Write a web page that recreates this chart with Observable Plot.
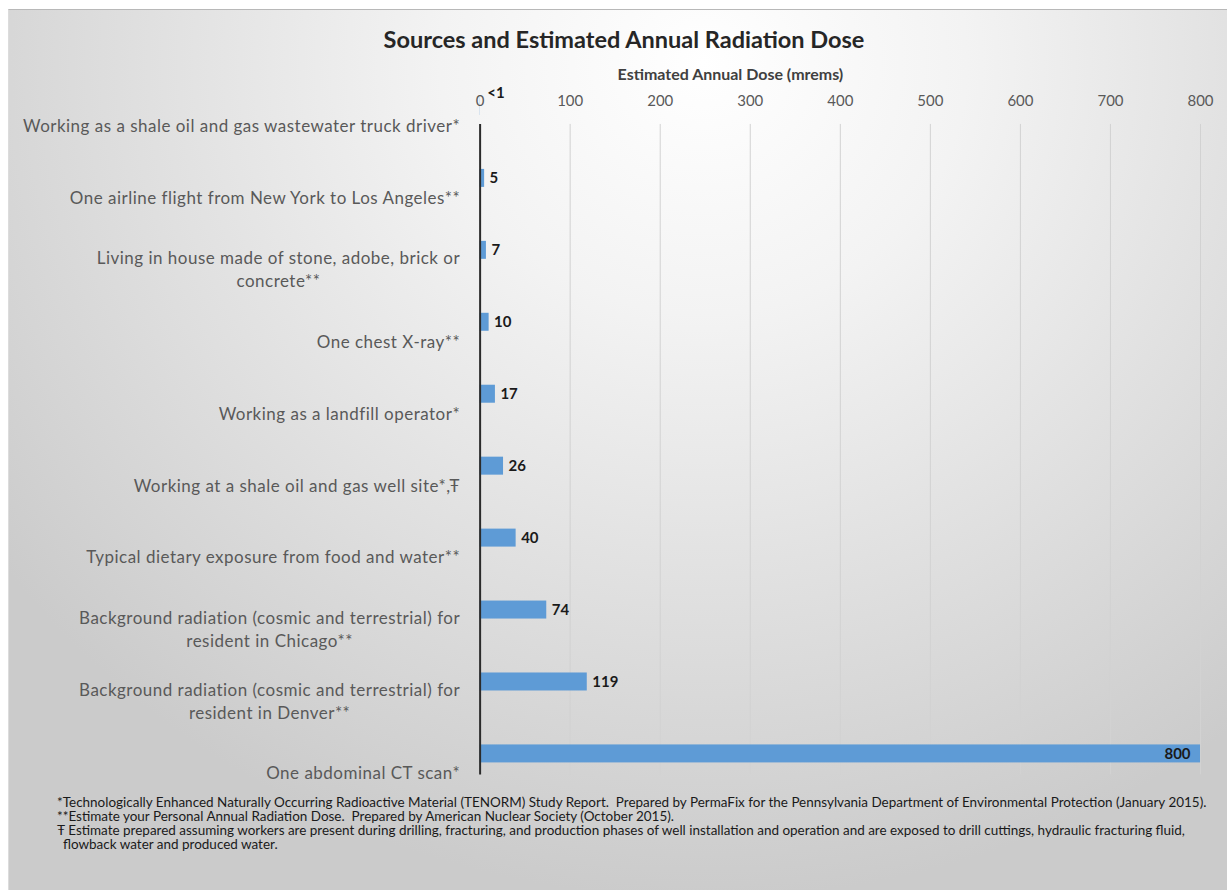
<!DOCTYPE html>
<html>
<head>
<meta charset="utf-8">
<script src="https://cdn.jsdelivr.net/npm/d3@7"></script>
<script src="https://cdn.jsdelivr.net/npm/@observablehq/plot@0.6"></script>
<style>
  html, body { margin: 0; padding: 0; background: #fff; }
  body { width: 1227px; height: 890px; overflow: hidden; position: relative; font-family: Lato, "Open Sans", sans-serif; }
  #chart {
    position: absolute; left: 8px; top: 9px; width: 1219px; height: 881px;
    box-sizing: border-box;
    border-top: 1px solid #b8b8b8; border-left: 1px solid #dcdcdc;
    background: radial-gradient(ellipse 72% 95% at 57% 6%, #ffffff 0%, #f3f3f3 30%, #dfdfdf 65%, #cbcbcb 100%);
  }
  #title {
    height: 51px; box-sizing: border-box; padding-top: 15px; padding-left: 12px;
    text-align: center; font-weight: bold; font-size: 23.5px; line-height: 28px; color: #262626;
  }
  #plot svg { display: block; background: transparent; }
  #notes {
    position: absolute; left: 48px; top: 785px; color: #1a1a1a;
    font-size: 12px; line-height: 14px; white-space: nowrap;
  }
  #notes div.indent { padding-left: 6px; }
</style>
</head>
<body>
<div id="chart">
  <div id="title">Sources and Estimated Annual Radiation Dose</div>
  <div id="plot"></div>
  <div id="notes">
    <div>*Technologically Enhanced Naturally Occurring Radioactive Material (TENORM) Study Report.&nbsp; Prepared by PermaFix for the Pennsylvania Department of Environmental Protection (January 2015).</div>
    <div>**Estimate your Personal Annual Radiation Dose.&nbsp; Prepared by American Nuclear Society (October 2015).</div>
    <div>Ŧ Estimate prepared assuming workers are present during drilling, fracturing, and production phases of well installation and operation and are exposed to drill cuttings, hydraulic fracturing fluid,</div>
    <div class="indent">flowback water and produced water.</div>
  </div>
</div>
<script>
// ---- data ----
const categories = [
  "Working as a shale oil and gas wastewater truck driver*",
  "One airline flight from New York to Los Angeles**",
  "Living in house made of stone, adobe, brick or\nconcrete**",
  "One chest X-ray**",
  "Working as a landfill operator*",
  "Working at a shale oil and gas well site*,Ŧ",
  "Typical dietary exposure from food and water**",
  "Background radiation (cosmic and terrestrial) for\nresident in Chicago**",
  "Background radiation (cosmic and terrestrial) for\nresident in Denver**",
  "One abdominal CT scan*"
];
const doses = [0.2, 5, 7, 10, 17, 26, 40, 74, 119, 800];
const doseLabels = ["<1", "5", "7", "10", "17", "26", "40", "74", "119", "800"];
const xTicks = [0, 100, 200, 300, 400, 500, 600, 700, 800];
const xTitle = "Estimated Annual Dose (mrems)";

const rows = categories.map((c, i) => ({category: c, dose: doses[i], label: doseLabels[i]}));
const maxDose = d3.max(doses);

const svg = Plot.plot({
  width: 1219,
  height: 730,
  marginLeft: 471,
  marginRight: 27,
  marginTop: 63,
  marginBottom: 16,
  style: {fontFamily: "Lato, 'Open Sans', sans-serif", background: "transparent"},
  x: {domain: [0, 800], axis: null},
  y: {domain: categories, range: [9, 729], padding: 0, axis: null},
  marks: [
    Plot.ruleX(xTicks.filter(d => d > 0), {x: d => d, stroke: "#d2d2d2", strokeWidth: 1}),
    Plot.barX(rows, {x: "dose", y: "category", fill: "#5e9bd6", insetTop: 27, insetBottom: 27}),
    Plot.ruleX([0], {stroke: "#2b2b2b", strokeWidth: 2}),
    Plot.text(xTicks, {x: d => d, text: d => String(d), frameAnchor: "top", dy: -29, fill: "#595959", fontSize: 15}),
    Plot.text([xTitle], {text: d => d, frameAnchor: "top", dy: -56, dx: -110, fill: "#404040", fontSize: 16, fontWeight: "bold"}),
    Plot.text(rows, {y: "category", text: "category", frameAnchor: "left", textAnchor: "end", dx: -20, dy: 18, fill: "#595959", fontSize: 17, lineHeight: 1.36}),
    Plot.text(rows.filter(d => d.dose >= 1 && d.dose < maxDose), {x: "dose", y: "category", text: "label", textAnchor: "start", dx: 5, fill: "#1a1a1a", fontSize: 15, fontWeight: "bold"}),
    Plot.text(rows.filter(d => d.dose < 1), {x: "dose", y: "category", text: "label", textAnchor: "start", dx: 7, dy: -13, fill: "#1a1a1a", fontSize: 15, fontWeight: "bold"}),
    Plot.text(rows.filter(d => d.dose >= maxDose), {x: "dose", y: "category", text: "label", textAnchor: "end", dx: -10, fill: "#1a1a1a", fontSize: 15, fontWeight: "bold"})
  ]
});
document.getElementById("plot").append(svg);

// slightly wider tracking for the category labels (Calibri-like spacing)
svg.querySelectorAll('g[font-size="17"]').forEach(g => g.setAttribute("letter-spacing", "0.5px"));

// center the lines of multi-line category labels within their right-aligned block
svg.querySelectorAll("text").forEach(t => {
  const spans = t.querySelectorAll("tspan");
  if (spans.length > 1) {
    let w = 0;
    spans.forEach(s => { w = Math.max(w, s.getComputedTextLength()); });
    t.setAttribute("text-anchor", "middle");
    spans.forEach(s => s.setAttribute("x", String(-w / 2)));
  }
});

// fit footnote width to the reference (first line spans ~1150px)
const notes = document.getElementById("notes");
const first = notes.firstElementChild;
const range = document.createRange();
range.selectNodeContents(first);
const w0 = range.getBoundingClientRect().width;
if (w0 > 0) notes.style.fontSize = (12 * 1150 / w0).toFixed(2) + "px";
</script>
</body>
</html>
